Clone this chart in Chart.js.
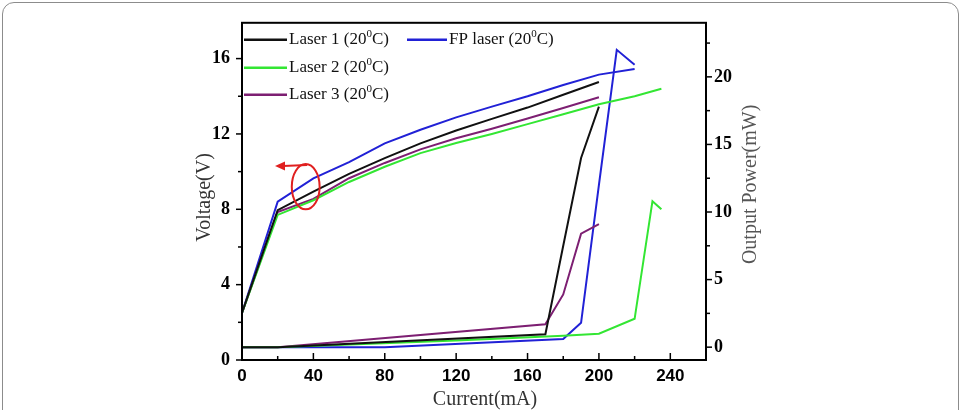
<!DOCTYPE html>
<html><head><meta charset="utf-8">
<script src="https://cdn.jsdelivr.net/npm/chart.js@4.4.1/dist/chart.umd.min.js"></script>
<style>
html,body{margin:0;padding:0;background:#fff;}
#wrap{position:relative;width:961px;height:410px;overflow:hidden;}
#frame{position:absolute;left:2px;top:2px;width:955px;height:430px;border:1.5px solid #8c8c8c;border-radius:12px;pointer-events:none;}
canvas{position:absolute;left:0;top:0;}
</style></head><body>
<div id="wrap"><canvas id="c" width="961" height="410"></canvas><div id="frame"></div></div>
<script>
// ---- data (current in mA) ----
const seriesNames = ['Laser 1', 'Laser 2', 'Laser 3', 'FP laser'];
const tempLabel = '20';

const laser1VoltI = [0, 20, 40, 60, 80, 100, 120, 140, 160, 180, 200];
const laser1Volt  = [2.5, 7.95, 8.94, 9.88, 10.72, 11.5, 12.18, 12.8, 13.4, 14.08, 14.76];
const laser2VoltI = [0, 20, 40, 60, 80, 100, 120, 140, 160, 180, 200, 220, 235];
const laser2Volt  = [2.5, 7.7, 8.48, 9.45, 10.26, 10.98, 11.52, 12.0, 12.52, 13.05, 13.58, 14.0, 14.4];
const laser3VoltI = [0, 20, 40, 60, 80, 100, 120, 140, 160, 180, 200];
const laser3Volt  = [2.5, 7.85, 8.55, 9.65, 10.46, 11.18, 11.77, 12.28, 12.82, 13.38, 13.95];
const fpVoltI     = [0, 20, 40, 60, 80, 100, 120, 140, 160, 180, 200, 220];
const fpVolt      = [2.5, 8.4, 9.64, 10.5, 11.5, 12.22, 12.88, 13.45, 14.0, 14.6, 15.15, 15.45];

const laser1PowI = [0, 20, 170, 180, 190, 200];
const laser1Pow  = [0, 0, 0.95, 7.5, 14.0, 17.8];
const laser2PowI = [0, 20, 120, 180, 200, 220, 230, 235];
const laser2Pow  = [0, 0, 0.5, 0.85, 1.0, 2.1, 10.8, 10.2];
const laser3PowI = [0, 20, 170, 180, 190, 200];
const laser3Pow  = [0, 0, 1.7, 3.9, 8.4, 9.1];
const fpPowI     = [0, 80, 180, 190, 200, 210, 220];
const fpPow      = [0, 0, 0.6, 1.8, 12.0, 22.0, 20.9];

const xTickLabels = [0, 40, 80, 120, 160, 200, 240];
const vTickLabels = [0, 4, 8, 12, 16];
const pTickLabels = [0, 5, 10, 15, 20];

// annotation (red ellipse + arrow pointing to left axis), data units
const noteEllipse = {x: 35.7, y: 9.2, rx: 7.8, ry: 1.2};
const noteArrow = {x0: 36.5, y0: 10.35, x1: 18.5, y1: 10.3};

const colors = ['#111111', '#33e633', '#7d1f72', '#2121d6'];

function pts(xs, ys){ return xs.map((x,i)=>({x:x, y:ys[i]})); }

const volt = [[laser1VoltI,laser1Volt],[laser2VoltI,laser2Volt],[laser3VoltI,laser3Volt],[fpVoltI,fpVolt]];
const pow  = [[laser1PowI,laser1Pow],[laser2PowI,laser2Pow],[laser3PowI,laser3Pow],[fpPowI,fpPow]];

const datasets = [];
volt.forEach((d,i)=>datasets.push({label: seriesNames[i]+' V', data: pts(d[0],d[1]), yAxisID:'y', borderColor: colors[i], borderWidth:2, pointRadius:0, tension:0, fill:false}));
pow.forEach((d,i)=>datasets.push({label: seriesNames[i]+' P', data: pts(d[0],d[1]), yAxisID:'y1', borderColor: colors[i], borderWidth:2, pointRadius:0, tension:0, fill:false}));

const SERIF = '"Liberation Serif", "Times New Roman", serif';
const SANS = '"Liberation Sans", Arial, sans-serif';

const deco = {
  id: 'deco',
  afterDatasetsDraw(chart){
    const ctx = chart.ctx, sx = chart.scales.x, sy = chart.scales.y;
    ctx.save();
    ctx.strokeStyle = '#e02020'; ctx.fillStyle = '#e02020'; ctx.lineWidth = 2;
    const cx = sx.getPixelForValue(noteEllipse.x), cy = sy.getPixelForValue(noteEllipse.y);
    const rx = sx.getPixelForValue(noteEllipse.x + noteEllipse.rx) - cx;
    const ry = cy - sy.getPixelForValue(noteEllipse.y + noteEllipse.ry);
    ctx.beginPath(); ctx.ellipse(cx, cy, rx, ry, 0, 0, Math.PI*2); ctx.stroke();
    const ax0 = sx.getPixelForValue(noteArrow.x0), ay0 = sy.getPixelForValue(noteArrow.y0);
    const ax1 = sx.getPixelForValue(noteArrow.x1), ay1 = sy.getPixelForValue(noteArrow.y1);
    ctx.beginPath(); ctx.moveTo(ax0, ay0); ctx.lineTo(ax1 + 8, ay1); ctx.stroke();
    ctx.beginPath(); ctx.moveTo(ax1, ay1); ctx.lineTo(ax1 + 10, ay1 - 4.5); ctx.lineTo(ax1 + 10, ay1 + 4.5); ctx.closePath(); ctx.fill();
    ctx.restore();
  },
  afterDraw(chart){
    const ctx = chart.ctx, ca = chart.chartArea;
    const sx = chart.scales.x, sy = chart.scales.y, sp = chart.scales.y1;
    ctx.save();
    // box
    ctx.strokeStyle = '#000'; ctx.lineWidth = 2;
    ctx.strokeRect(ca.left, ca.top, ca.right - ca.left, ca.bottom - ca.top);
    ctx.lineWidth = 1.5;
    // bottom ticks (inside)
    sx.ticks.forEach(t=>{
      const px = sx.getPixelForValue(t.value);
      const len = xTickLabels.includes(t.value) ? 7 : 4;
      ctx.beginPath(); ctx.moveTo(px, ca.bottom); ctx.lineTo(px, ca.bottom - len); ctx.stroke();
    });
    // left ticks (outside)
    sy.ticks.forEach(t=>{
      const py = sy.getPixelForValue(t.value);
      const len = vTickLabels.includes(t.value) ? 6 : 4;
      ctx.beginPath(); ctx.moveTo(ca.left, py); ctx.lineTo(ca.left - len, py); ctx.stroke();
    });
    // right ticks (outside)
    sp.ticks.forEach(t=>{
      const py = sp.getPixelForValue(t.value);
      const len = pTickLabels.includes(t.value) ? 6 : 4;
      ctx.beginPath(); ctx.moveTo(ca.right, py); ctx.lineTo(ca.right + len, py); ctx.stroke();
    });
    // axis titles
    ctx.textAlign = 'center'; ctx.textBaseline = 'middle';
    ctx.fillStyle = '#333';
    ctx.font = '20px ' + SERIF;
    ctx.fillText('Current(mA)', (ca.left + ca.right)/2 + 11, ca.bottom + 40);
    ctx.save();
    ctx.translate(ca.left - 37, (ca.top + ca.bottom)/2 + 6);
    ctx.rotate(-Math.PI/2);
    ctx.fillText('Voltage(V)', 0, 0);
    ctx.restore();
    ctx.save();
    ctx.fillStyle = '#555';
    ctx.translate(ca.right + 45, (ca.top + ca.bottom)/2 - 7);
    ctx.rotate(-Math.PI/2);
    ctx.fillText('Output Power(mW)', 0, 0);
    ctx.restore();
    // legend
    const rows = [
      {i:0, x: ca.left + 2, y: ca.top + 17},
      {i:3, x: ca.left + 165, y: ca.top + 17},
      {i:1, x: ca.left + 2, y: ca.top + 45},
      {i:2, x: ca.left + 2, y: ca.top + 72}
    ];
    rows.forEach(r=>{
      const lineLen = r.i === 3 ? 40 : 43;
      ctx.strokeStyle = colors[r.i]; ctx.lineWidth = 2.5;
      ctx.beginPath(); ctx.moveTo(r.x, r.y); ctx.lineTo(r.x + lineLen, r.y); ctx.stroke();
      ctx.fillStyle = '#111'; ctx.textAlign = 'left'; ctx.textBaseline = 'middle';
      let tx = r.x + lineLen + 2;
      ctx.font = '17px ' + SERIF;
      const a = seriesNames[r.i] + ' (' + tempLabel;
      ctx.fillText(a, tx, r.y); tx += ctx.measureText(a).width;
      ctx.font = '11px ' + SERIF;
      ctx.fillText('0', tx, r.y - 6); tx += ctx.measureText('0').width;
      ctx.font = '17px ' + SERIF;
      ctx.fillText('C)', tx, r.y);
    });
    ctx.restore();
  }
};

new Chart(document.getElementById('c'), {
  type: 'line',
  data: { datasets: datasets },
  options: {
    responsive: false,
    animation: false,
    layout: { padding: { top: 16, left: 0, right: 0, bottom: 0 } },
    plugins: { legend: { display: false }, tooltip: { enabled: false } },
    scales: {
      x: {
        type: 'linear', min: 0, max: 260,
        grid: { display: false, drawTicks: false }, border: { display: false },
        ticks: { stepSize: 20, autoSkip: false, maxRotation: 0, padding: 6, color: '#000',
                 font: { family: SANS, size: 17, weight: 'bold' },
                 callback: v => xTickLabels.includes(v) ? String(v) : '' },
        afterFit: s => { s.height = 50; }
      },
      y: {
        position: 'left', min: 0, max: 17.9,
        grid: { display: false, drawTicks: false }, border: { display: false },
        ticks: { stepSize: 2, includeBounds: false, padding: 12, color: '#000',
                 font: { family: SERIF, size: 18, weight: 'bold' },
                 callback: v => vTickLabels.includes(v) ? String(v) : '' },
        afterFit: s => { s.width = 242; }
      },
      y1: {
        position: 'right', min: -0.95, max: 24,
        grid: { display: false, drawTicks: false }, border: { display: false },
        ticks: { stepSize: 2.5, includeBounds: false, padding: 8, color: '#000',
                 font: { family: SERIF, size: 18, weight: 'bold' },
                 callback: v => pTickLabels.includes(v) ? String(v) : '' },
        afterFit: s => { s.width = 255; }
      }
    }
  },
  plugins: [deco]
});
</script>
</body></html>
